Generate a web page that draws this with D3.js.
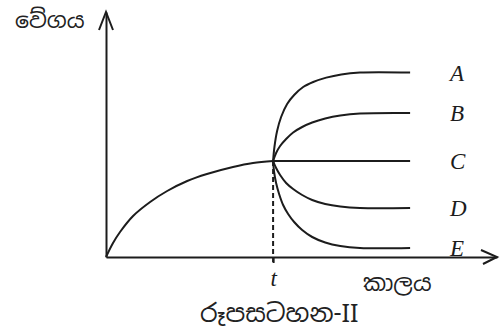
<!DOCTYPE html>
<html>
<head>
<meta charset="utf-8">
<script src="https://cdn.jsdelivr.net/npm/d3@7"></script>
<style>
  body { margin: 0; background: #fff; }
  .curve { fill: none; stroke: #1c1c1c; stroke-width: 2; }
  .lbl { font-family: "Liberation Serif", serif; font-style: italic; fill: #1c1c1c; }
  .si { font-family: "Noto Sans Sinhala", "Noto Sans", sans-serif; fill: #222; }
</style>
</head>
<body>
<script>
// speed-time graph (figure II): one rising curve up to t, then five branches A..E
var tVal = 50;
var xMax = 117, yMax = 122.5;

var riseData = [[0,0],[2.1,7],[4.2,12.5],[8.1,20.5],[13.2,27.5],[18.3,33],[24.3,38],[30.2,41.5],[38,45],[44,47],[50,48]];
var branchNames = ["A", "B", "C", "D", "E"];
var branchA = [[50,48],[50.4,55],[51.2,63],[52.4,70],[54.2,76.5],[56.3,81],[59,85],[62,87.5],[65.9,89.7],[70.4,91.3],[76,92.2],[91,92.2]];
var branchB = [[50,48],[50.9,52],[52.1,55.5],[53.9,59],[56,62.25],[58.7,65],[61.7,67.25],[65.6,69.25],[70.1,70.75],[76,71.75],[91,72]];
var branchC = [[50,48],[91,48]];
var branchD = [[50,48],[50.9,44.5],[52.1,41],[53.9,37],[56,34],[58.7,31],[61.7,28.5],[65.6,26.5],[70.1,25.25],[76,24.5],[91,24.5]];
var branchE = [[50,48],[50.3,42.5],[50.9,37],[51.8,31.5],[53,26],[54.5,21.5],[56.3,17.5],[58.7,13.5],[61.7,10],[65.6,7.25],[70.1,5.5],[76,4.5],[91,4.5]];

var yLabel = "වේගය",
    xLabel = "කාලය",
    caption = "රූපසටහන-II",
    tLabel = "t";

var width = 502, height = 329;
var svg = d3.select("body").append("svg")
    .attr("width", width)
    .attr("height", height);

var x = d3.scaleLinear().domain([0, xMax]).range([106, 497]),
    y = d3.scaleLinear().domain([0, yMax]).range([257, 12]);

var line = d3.line()
    .x(function(d){ return x(d[0]); })
    .y(function(d){ return y(d[1]); })
    .curve(d3.curveCatmullRom.alpha(0.5));

// axes (no ticks, only the t tick)
var xAxis = svg.append("g")
    .attr("transform", "translate(0," + y(0) + ")")
    .call(d3.axisBottom(x).tickValues([tVal]).tickFormat(function(){ return tLabel; }).tickSize(6).tickSizeOuter(0));
xAxis.select(".domain").attr("stroke", "#1c1c1c").attr("stroke-width", 2);
xAxis.selectAll(".tick line").attr("stroke", "#1c1c1c").attr("stroke-width", 2);
xAxis.selectAll(".tick text")
    .attr("class", "lbl")
    .attr("y", 29)
    .attr("dy", 0)
    .style("font-size", "23px");

var yAxis = svg.append("g")
    .attr("transform", "translate(" + x(0) + ",0)")
    .call(d3.axisLeft(y).tickValues([]).tickSizeOuter(0));
yAxis.select(".domain").attr("stroke", "#1c1c1c").attr("stroke-width", 2);

// arrow heads
svg.append("path")
    .attr("class", "curve")
    .attr("d", "M" + (x(0)-7) + "," + (y(yMax)+18) + "L" + x(0) + "," + y(yMax) + "L" + (x(0)+7) + "," + (y(yMax)+18));
svg.append("path")
    .attr("class", "curve")
    .attr("d", "M" + (x(xMax)-16) + "," + (y(0)-7) + "L" + x(xMax) + "," + y(0) + "L" + (x(xMax)-14) + "," + (y(0)+7));

// dashed drop line at t
svg.append("line")
    .attr("x1", x(tVal)).attr("x2", x(tVal))
    .attr("y1", y(48)).attr("y2", y(0) + 6)
    .attr("stroke", "#1c1c1c")
    .attr("stroke-width", 2)
    .attr("stroke-dasharray", "5,3");

svg.append("path").attr("class", "curve").attr("d", line(riseData));

var branches = [branchA, branchB, branchC, branchD, branchE];
branches.forEach(function(b, i){
    svg.append("path").attr("class", "curve").attr("d", line(b));
    var last = b[b.length - 1];
    svg.append("text")
        .attr("class", "lbl")
        .attr("x", x(last[0]) + 40)
        .attr("y", y(last[1]))
        .attr("dy", "0.36em")
        .style("font-size", "23px")
        .text(branchNames[i]);
});

svg.append("text").attr("class", "si")
    .attr("x", 15).attr("y", 28)
    .style("font-size", "22px")
    .text(yLabel);
svg.append("text").attr("class", "si")
    .attr("x", 363).attr("y", 291)
    .style("font-size", "23px")
    .text(xLabel);
svg.append("text").attr("class", "si")
    .attr("x", 200).attr("y", 322)
    .style("font-size", "25px")
    .text(caption);
</script>
</body>
</html>
